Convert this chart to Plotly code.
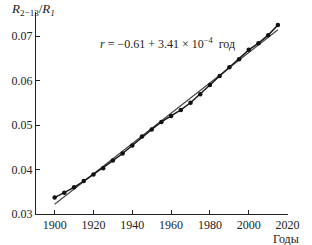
import plotly.graph_objects as go

years = [1900, 1905, 1910, 1915, 1920, 1925, 1930, 1935, 1940, 1945, 1950, 1955,
         1960, 1965, 1970, 1975, 1980, 1985, 1990, 1995, 2000, 2005, 2010, 2015]
ratio = [0.0337, 0.0348, 0.0360, 0.0374, 0.0389, 0.0403, 0.0420, 0.0436, 0.0454, 0.0474,
         0.0490, 0.0507, 0.0520, 0.0534, 0.0550, 0.0569, 0.0590, 0.0610, 0.0630, 0.0648,
         0.0669, 0.0684, 0.0702, 0.0725]
fit_years = [1900, 2015]
fit_values = [0.0322, 0.0714]

x_ticks = [1900, 1920, 1940, 1960, 1980, 2000, 2020]
y_ticks = [0.03, 0.04, 0.05, 0.06, 0.07]
y_ticklabels = ["0.03", "0.04", "0.05", "0.06", "0.07"]

serif = "Liberation Serif, Times New Roman, serif"

fig = go.Figure()
fig.add_trace(go.Scatter(x=fit_years, y=fit_values, mode="lines",
                         line=dict(color="#444444", width=1.1), showlegend=False))
fig.add_trace(go.Scatter(x=years, y=ratio, mode="lines+markers",
                         line=dict(color="#1a1a1a", width=1.5),
                         marker=dict(color="#111111", size=4.5),
                         showlegend=False, cliponaxis=False))

fig.update_layout(
    width=312, height=245,
    margin=dict(l=29, r=14, t=12, b=31),
    paper_bgcolor="white", plot_bgcolor="white",
    font=dict(family=serif, size=12, color="#222222"),
    xaxis=dict(range=[1890.4, 2020.2], tickvals=x_ticks, ticks="inside", ticklen=4,
               tickcolor="#222222", showline=True, linecolor="#222222", linewidth=1,
               showgrid=False, zeroline=False, tickfont=dict(family=serif, size=12)),
    yaxis=dict(range=[0.03, 0.0754], tickvals=y_ticks, ticktext=y_ticklabels,
               ticks="inside", ticklen=4, tickcolor="#222222", showline=True,
               linecolor="#222222", linewidth=1, showgrid=False, zeroline=False,
               tickfont=dict(family=serif, size=12)),
    annotations=[
        dict(text="<i>R</i><sub>2−13</sub>/<i>R</i><sub><i>1</i></sub>",
             xref="paper", yref="paper", x=-29/269, y=1 + 2/202,
             xanchor="left", yanchor="middle", showarrow=False,
             font=dict(family=serif, size=13, color="#222222")),
        dict(text="<i>r</i> = −0.61 + 3.41 × 10<sup>−4</sup>  год",
             xref="paper", yref="paper", x=(95 - 29) / 269, y=(214 - 43) / 202,
             xanchor="left", yanchor="middle", showarrow=False,
             font=dict(family=serif, size=12, color="#222222")),
        dict(text="Годы", xref="paper", yref="paper", x=1 + 14/269, y=-(239 - 214) / 202,
             xanchor="right", yanchor="middle", showarrow=False,
             font=dict(family=serif, size=12, color="#222222")),
    ],
)

fig.write_html("out.html")
